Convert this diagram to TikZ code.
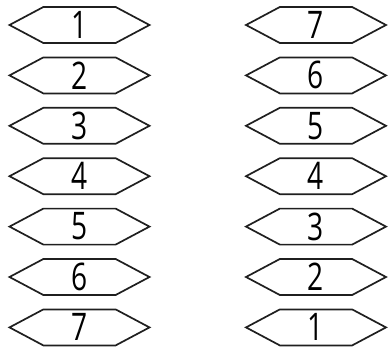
\documentclass[tikz,border=0pt]{standalone}
\usepackage{fontspec}
\newfontfamily\digitfont[FakeStretch=0.74]{Open Sans}
\usetikzlibrary{shapes.symbols}
\begin{document}
\begin{tikzpicture}[x=1pt, y=-1pt,
  hexbox/.style={draw=black!88, line width=1.7pt, shape=signal, signal to=west and east,
    signal pointer angle=56, minimum width=140pt, minimum height=36pt,
    inner sep=0pt, font=\digitfont\fontsize{38}{38}\selectfont}]
  \useasboundingbox (0,0) rectangle (390,351);
  \foreach \i in {1,...,7} {
    \pgfmathtruncatemacro\j{8-\i}
    \node[hexbox] (L\i) at (79.5,{25+(\i-1)*50.4}) {\i};
    \node[hexbox] (R\i) at (316,{25+(\i-1)*50.4}) {\j};
  }
\end{tikzpicture}
\end{document}
